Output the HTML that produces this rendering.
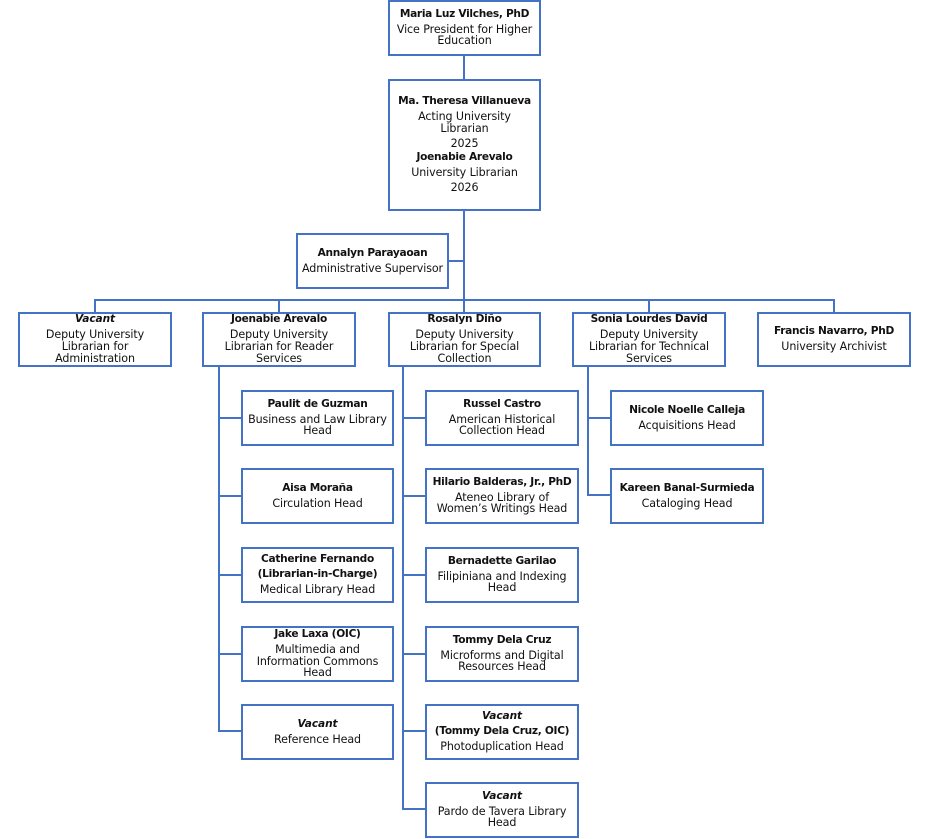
<!DOCTYPE html>
<html><head><meta charset="utf-8"><style>
body{margin:0;width:940px;height:839px;background:#fff;position:relative;overflow:hidden;font-family:"DejaVu Sans","Liberation Sans",sans-serif;}
.b{position:absolute;box-sizing:border-box;border:2px solid #4472C4;background:#fff;display:flex;flex-direction:column;justify-content:center;align-items:center;text-align:center;font-size:11.1px;line-height:11.8px;color:#111;padding:0;white-space:nowrap;letter-spacing:-0.1px;}
.b b{margin-bottom:3px;font-size:10.6px;letter-spacing:-0.3px;}
.b i{font-weight:bold;margin-bottom:3px;font-size:10.6px;}
.h{position:absolute;background:#4472C4;height:2px;}
.v{position:absolute;background:#4472C4;width:2px;}
.gap{height:3px}
</style></head><body>
<!-- connectors -->
<div class="v" style="left:463px;top:55px;height:25px"></div>
<div class="v" style="left:463px;top:210px;height:102px"></div>
<div class="h" style="left:447px;top:260px;width:17px"></div>
<div class="h" style="left:94px;top:299px;width:741px"></div>
<div class="v" style="left:94px;top:299px;height:13px"></div>
<div class="v" style="left:278px;top:299px;height:13px"></div>
<div class="v" style="left:648px;top:299px;height:13px"></div>
<div class="v" style="left:833px;top:299px;height:13px"></div>

<div class="v" style="left:218px;top:366px;height:366px"></div>
<div class="h" style="left:218px;top:417px;width:23px"></div>
<div class="h" style="left:218px;top:495px;width:23px"></div>
<div class="h" style="left:218px;top:574px;width:23px"></div>
<div class="h" style="left:218px;top:653px;width:23px"></div>
<div class="h" style="left:218px;top:730px;width:23px"></div>

<div class="v" style="left:402px;top:366px;height:444px"></div>
<div class="h" style="left:402px;top:417px;width:23px"></div>
<div class="h" style="left:402px;top:495px;width:23px"></div>
<div class="h" style="left:402px;top:574px;width:23px"></div>
<div class="h" style="left:402px;top:653px;width:23px"></div>
<div class="h" style="left:402px;top:730px;width:23px"></div>
<div class="h" style="left:402px;top:808px;width:23px"></div>

<div class="v" style="left:587px;top:366px;height:130px"></div>
<div class="h" style="left:587px;top:417px;width:23px"></div>
<div class="h" style="left:587px;top:494px;width:23px"></div>

<!-- boxes -->
<div class="b" style="left:388px;top:0;width:153px;height:56px"><b>Maria Luz Vilches, PhD</b>Vice President for Higher<br>Education</div>
<div class="b" style="left:388px;top:79px;width:153px;height:132px"><b>Ma. Theresa Villanueva</b>Acting University<br>Librarian<div class="gap"></div>2025<div class="gap"></div><b>Joenabie Arevalo</b>University Librarian<div class="gap"></div>2026</div>
<div class="b" style="left:296px;top:233px;width:153px;height:56px"><b>Annalyn Parayaoan</b>Administrative Supervisor</div>

<div class="b" style="left:18px;top:312px;width:154px;height:55px"><i>Vacant</i>Deputy University<br>Librarian for<br>Administration</div>
<div class="b" style="left:202px;top:312px;width:154px;height:55px"><b>Joenabie Arevalo</b>Deputy University<br>Librarian for Reader<br>Services</div>
<div class="b" style="left:388px;top:312px;width:153px;height:55px"><b>Rosalyn Diño</b>Deputy University<br>Librarian for Special<br>Collection</div>
<div class="b" style="left:572px;top:312px;width:154px;height:55px"><b>Sonia Lourdes David</b>Deputy University<br>Librarian for Technical<br>Services</div>
<div class="b" style="left:757px;top:312px;width:154px;height:55px"><b>Francis Navarro, PhD</b>University Archivist</div>

<div class="b" style="left:241px;top:390px;width:153px;height:56px"><b>Paulit de Guzman</b>Business and Law Library<br>Head</div>
<div class="b" style="left:241px;top:468px;width:153px;height:56px"><b>Aisa Moraña</b>Circulation Head</div>
<div class="b" style="left:241px;top:547px;width:153px;height:56px"><b>Catherine Fernando</b><b>(Librarian-in-Charge)</b>Medical Library Head</div>
<div class="b" style="left:241px;top:626px;width:153px;height:56px"><b>Jake Laxa (OIC)</b>Multimedia and<br>Information Commons<br>Head</div>
<div class="b" style="left:241px;top:704px;width:153px;height:56px"><i>Vacant</i>Reference Head</div>

<div class="b" style="left:425px;top:390px;width:154px;height:56px"><b>Russel Castro</b>American Historical<br>Collection Head</div>
<div class="b" style="left:425px;top:468px;width:154px;height:56px"><b>Hilario Balderas, Jr., PhD</b>Ateneo Library of<br>Women’s Writings Head</div>
<div class="b" style="left:425px;top:547px;width:154px;height:56px"><b>Bernadette Garilao</b>Filipiniana and Indexing<br>Head</div>
<div class="b" style="left:425px;top:626px;width:154px;height:56px"><b>Tommy Dela Cruz</b>Microforms and Digital<br>Resources Head</div>
<div class="b" style="left:425px;top:704px;width:154px;height:56px"><i>Vacant</i><b>(Tommy Dela Cruz, OIC)</b>Photoduplication Head</div>
<div class="b" style="left:425px;top:782px;width:154px;height:56px"><i>Vacant</i>Pardo de Tavera Library<br>Head</div>

<div class="b" style="left:610px;top:390px;width:154px;height:56px"><b>Nicole Noelle Calleja</b>Acquisitions Head</div>
<div class="b" style="left:610px;top:468px;width:154px;height:56px"><b>Kareen Banal-Surmieda</b>Cataloging Head</div>
</body></html>
